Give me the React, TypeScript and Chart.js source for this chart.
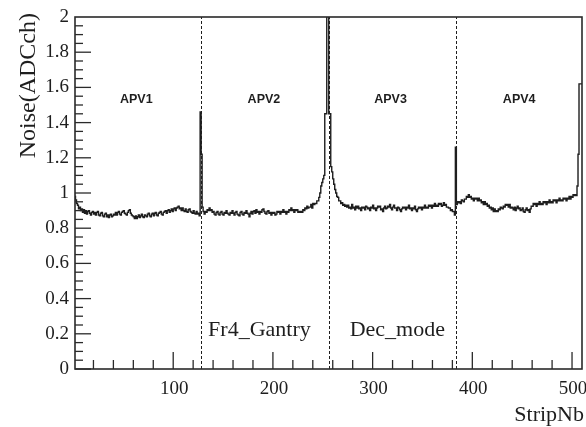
import React, { useEffect, useRef } from "react";
import { Chart, registerables } from "chart.js";

Chart.register(...registerables);

// Noise per strip (ADC counts), one array per APV chip (128 strips each)
const apv1 = [
  1.02, 1.0, 0.98, 0.96, 0.94, 0.93, 0.91, 0.92, 0.9, 0.91,
  0.89, 0.905, 0.885, 0.9, 0.88, 0.895, 0.9, 0.885, 0.875, 0.89,
  0.895, 0.88, 0.89, 0.875, 0.89, 0.895, 0.875, 0.87, 0.885, 0.89,
  0.87, 0.865, 0.88, 0.885, 0.865, 0.875, 0.86, 0.875, 0.88, 0.865,
  0.87, 0.88, 0.875, 0.89, 0.875, 0.89, 0.895, 0.88, 0.875, 0.89,
  0.895, 0.9, 0.885, 0.88, 0.875, 0.89, 0.9, 0.905, 0.885, 0.875,
  0.87, 0.865, 0.855, 0.87, 0.855, 0.865, 0.875, 0.86, 0.87, 0.88,
  0.865, 0.86, 0.875, 0.87, 0.865, 0.88, 0.885, 0.87, 0.865, 0.88,
  0.885, 0.87, 0.885, 0.89, 0.875, 0.87, 0.885, 0.89, 0.895, 0.88,
  0.875, 0.89, 0.895, 0.9, 0.885, 0.9, 0.905, 0.89, 0.9, 0.91,
  0.895, 0.91, 0.915, 0.9, 0.915, 0.92, 0.925, 0.91, 0.915, 0.9,
  0.915, 0.9, 0.895, 0.91, 0.895, 0.89, 0.905, 0.91, 0.895, 0.89,
  0.885, 0.9, 0.885, 0.88, 0.895, 0.88, 0.885, 0.87,
];
const apv2 = [
  1.46, 1.22, 0.92, 0.895, 0.88, 0.895, 0.89, 0.905, 0.9, 0.915,
  0.9, 0.905, 0.89, 0.895, 0.88, 0.875, 0.89, 0.895, 0.88, 0.875,
  0.89, 0.895, 0.88, 0.875, 0.89, 0.885, 0.9, 0.885, 0.88, 0.875,
  0.89, 0.885, 0.9, 0.885, 0.875, 0.89, 0.895, 0.88, 0.875, 0.87,
  0.89, 0.895, 0.88, 0.875, 0.89, 0.885, 0.9, 0.885, 0.88, 0.865,
  0.885, 0.895, 0.88, 0.895, 0.9, 0.885, 0.905, 0.89, 0.895, 0.88,
  0.895, 0.89, 0.905, 0.91, 0.895, 0.885, 0.88, 0.895, 0.9, 0.885,
  0.89, 0.875, 0.89, 0.885, 0.89, 0.875, 0.88, 0.895, 0.89, 0.895,
  0.88, 0.895, 0.89, 0.905, 0.89, 0.895, 0.88, 0.895, 0.89, 0.905,
  0.9, 0.915, 0.9, 0.905, 0.89, 0.905, 0.9, 0.905, 0.89, 0.895,
  0.89, 0.895, 0.89, 0.905, 0.9, 0.915, 0.91, 0.925, 0.915, 0.92,
  0.92, 0.935, 0.915, 0.94, 0.935, 0.94, 0.94, 0.955, 0.955, 0.975,
  1.0, 1.04, 1.06, 1.08, 1.1, 1.45, 1.45, 2.3,
];
const apv3 = [
  2.3, 1.45, 1.45, 1.15, 1.12, 1.08, 1.05, 1.02, 1.0, 0.98,
  0.975, 0.955, 0.955, 0.94, 0.945, 0.93, 0.935, 0.925, 0.93, 0.92,
  0.93, 0.915, 0.92, 0.91, 0.935, 0.915, 0.92, 0.905, 0.925, 0.915,
  0.925, 0.91, 0.915, 0.9, 0.92, 0.915, 0.92, 0.905, 0.925, 0.92,
  0.91, 0.915, 0.9, 0.92, 0.915, 0.93, 0.91, 0.915, 0.9, 0.915,
  0.925, 0.92, 0.925, 0.905, 0.91, 0.895, 0.915, 0.925, 0.91, 0.915,
  0.925, 0.92, 0.935, 0.915, 0.905, 0.92, 0.93, 0.915, 0.915, 0.9,
  0.92, 0.915, 0.905, 0.895, 0.91, 0.92, 0.915, 0.92, 0.905, 0.92,
  0.915, 0.93, 0.91, 0.915, 0.9, 0.915, 0.91, 0.925, 0.905, 0.895,
  0.91, 0.92, 0.915, 0.92, 0.905, 0.92, 0.915, 0.93, 0.915, 0.92,
  0.915, 0.93, 0.925, 0.93, 0.915, 0.93, 0.925, 0.94, 0.925, 0.93,
  0.925, 0.94, 0.935, 0.94, 0.925, 0.93, 0.945, 0.93, 0.935, 0.92,
  0.92, 0.915, 0.915, 0.9, 0.905, 0.895, 0.895, 0.875,
];
const apv4 = [
  1.26, 0.935, 0.95, 0.945, 0.95, 0.94, 0.96, 0.955, 0.95, 0.965,
  0.965, 0.98, 0.975, 0.99, 0.975, 0.98, 0.965, 0.97, 0.955, 0.97,
  0.965, 0.97, 0.955, 0.97, 0.955, 0.96, 0.945, 0.95, 0.935, 0.95,
  0.935, 0.94, 0.925, 0.93, 0.915, 0.92, 0.905, 0.915, 0.895, 0.91,
  0.895, 0.9, 0.895, 0.91, 0.905, 0.92, 0.915, 0.91, 0.925, 0.92,
  0.935, 0.93, 0.935, 0.92, 0.935, 0.915, 0.92, 0.915, 0.905, 0.92,
  0.9, 0.915, 0.925, 0.91, 0.915, 0.9, 0.905, 0.915, 0.895, 0.89,
  0.905, 0.915, 0.9, 0.905, 0.89, 0.91, 0.925, 0.925, 0.94, 0.935,
  0.94, 0.925, 0.94, 0.935, 0.95, 0.935, 0.94, 0.935, 0.95, 0.945,
  0.95, 0.935, 0.95, 0.945, 0.96, 0.945, 0.95, 0.945, 0.96, 0.955,
  0.96, 0.945, 0.96, 0.955, 0.97, 0.955, 0.96, 0.955, 0.97, 0.965,
  0.97, 0.955, 0.97, 0.965, 0.98, 0.965, 0.98, 0.975, 0.99, 0.985,
  0.99, 0.985, 1.04, 1.22, 1.62, 1.62, 1.62, 1.62,
];

const apvLabels = ["APV1", "APV2", "APV3", "APV4"];
const apvLabelX = [63, 191, 318, 447];
const apvLabelY = 1.53;
const apvBoundaries = [128, 256, 384];
const notes = ["Fr4_Gantry", "Dec_mode"];
const noteX = [135, 277];
const noteY = 0.19;
const yTicks = [0, 0.2, 0.4, 0.6, 0.8, 1, 1.2, 1.4, 1.6, 1.8, 2];
const yTickLabels = ["0", "0.2", "0.4", "0.6", "0.8", "1", "1.2", "1.4", "1.6", "1.8", "2"];
const xTicks = [100, 200, 300, 400, 500];
const xTickLabels = ["100", "200", "300", "400", "500"];
const xTitle = "StripNb";
const yTitle = "Noise(ADCch)";
const xMin = 1.5;
const xMax = 510;
const yMin = 0;
const yMax = 2;

const SERIF = "'Liberation Serif', 'DejaVu Serif', serif";
const SANS = "'Liberation Sans', Arial, sans-serif";
const INK = "#1e1e1e";

const rootStyle = {
  id: "rootStyle",
  afterDatasetsDraw(chart: any) {
    const ctx = chart.ctx as CanvasRenderingContext2D;
    const xs = chart.scales.x;
    const ys = chart.scales.y;
    const { left, right, top, bottom } = chart.chartArea;
    ctx.save();

    // dashed APV boundaries
    ctx.strokeStyle = INK;
    ctx.lineWidth = 1;
    ctx.setLineDash([3, 2]);
    apvBoundaries.forEach((b) => {
      const px = Math.round(xs.getPixelForValue(b)) + 0.5;
      ctx.beginPath();
      ctx.moveTo(px, ys.getPixelForValue(yMin));
      ctx.lineTo(px, ys.getPixelForValue(yMax));
      ctx.stroke();
    });
    ctx.setLineDash([]);

    // frame
    ctx.strokeStyle = "#2a2a2a";
    ctx.lineWidth = 1.6;
    ctx.strokeRect(left, top, right - left, bottom - top);

    // y ticks (inside)
    ctx.lineWidth = 1.3;
    for (let i = 0; i < yTicks.length - 1; i++) {
      const a = yTicks[i];
      const b = yTicks[i + 1];
      for (let k = 0; k < 4; k++) {
        const v = a + ((b - a) * k) / 4;
        const py = ys.getPixelForValue(v);
        const len = k === 0 ? 16 : 8;
        ctx.beginPath();
        ctx.moveTo(left, py);
        ctx.lineTo(left + len, py);
        ctx.stroke();
      }
    }
    // x ticks (inside)
    for (let i = 0; i <= 25; i++) {
      const v = i * 20;
      if (v < xMin || v > xMax) continue;
      const px = xs.getPixelForValue(v);
      const len = v % 100 === 0 ? 17 : 9;
      ctx.beginPath();
      ctx.moveTo(px, bottom);
      ctx.lineTo(px, bottom - len);
      ctx.stroke();
    }

    // tick labels
    ctx.fillStyle = INK;
    ctx.font = `19px ${SERIF}`;
    ctx.textAlign = "right";
    ctx.textBaseline = "middle";
    yTicks.forEach((v, i) => {
      ctx.fillText(yTickLabels[i], left - 6, ys.getPixelForValue(v));
    });
    ctx.textAlign = "center";
    ctx.textBaseline = "top";
    xTicks.forEach((v, i) => {
      ctx.fillText(xTickLabels[i], xs.getPixelForValue(v) + 1, bottom + 11);
    });

    // axis titles
    ctx.font = `22px ${SERIF}`;
    ctx.textAlign = "right";
    ctx.textBaseline = "alphabetic";
    ctx.fillText(xTitle, right + 2, bottom + 52);
    ctx.save();
    ctx.font = `24px ${SERIF}`;
    ctx.translate(35, top - 4);
    ctx.rotate(-Math.PI / 2);
    ctx.textAlign = "right";
    ctx.fillText(yTitle, 0, 0);
    ctx.restore();

    // APV labels
    ctx.font = `bold 12.5px ${SANS}`;
    ctx.textAlign = "center";
    ctx.textBaseline = "middle";
    apvLabels.forEach((t, i) => {
      ctx.fillText(t, xs.getPixelForValue(apvLabelX[i]), ys.getPixelForValue(apvLabelY));
    });

    // notes
    ctx.font = `22px ${SERIF}`;
    ctx.textAlign = "left";
    ctx.textBaseline = "alphabetic";
    notes.forEach((t, i) => {
      ctx.fillText(t, xs.getPixelForValue(noteX[i]), ys.getPixelForValue(noteY));
    });

    ctx.restore();
  },
};

export default function App() {
  const ref = useRef<HTMLCanvasElement | null>(null);
  useEffect(() => {
    if (!ref.current) return;
    const noise = [...apv1, ...apv2, ...apv3, ...apv4];
    const points = noise.map((v, i) => ({ x: i, y: v }));
    points.push({ x: noise.length, y: noise[noise.length - 1] });
    const chart = new Chart(ref.current, {
      type: "line",
      data: {
        datasets: [
          {
            data: points,
            stepped: "after",
            borderColor: INK,
            borderWidth: 1.4,
            pointRadius: 0,
            fill: false,
          },
        ],
      },
      options: {
        animation: false,
        responsive: false,
        events: [],
        layout: { padding: { left: 75, right: 4, top: 17, bottom: 58 } },
        scales: {
          x: { type: "linear", min: xMin, max: xMax, display: false },
          y: { type: "linear", min: yMin, max: yMax, display: false },
        },
        plugins: { legend: { display: false }, tooltip: { enabled: false } },
      },
      plugins: [rootStyle],
    } as any);
    return () => chart.destroy();
  }, []);
  return (
    <div style={{ position: "fixed", left: 0, top: 0, width: 586, height: 427, background: "#fff" }}>
      <canvas ref={ref} width={586} height={427} style={{ display: "block" }} />
    </div>
  );
}
